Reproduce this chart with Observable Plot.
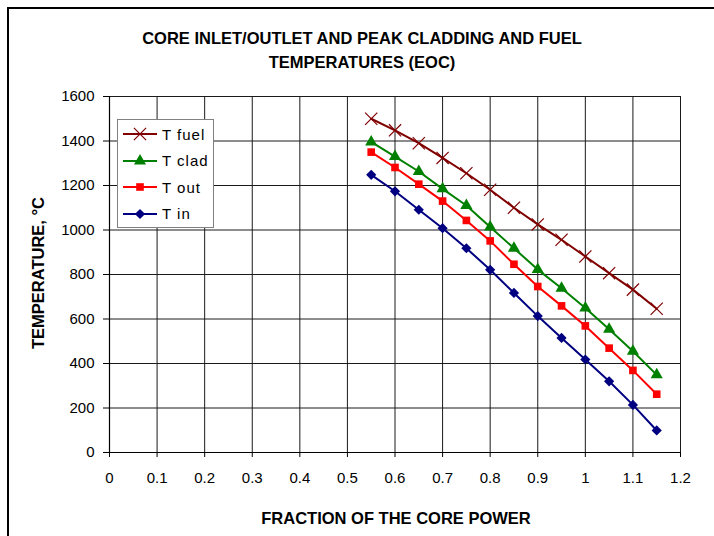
<!DOCTYPE html>
<html>
<head>
<meta charset="utf-8">
<script src="https://cdn.jsdelivr.net/npm/d3@7"></script>
<script src="https://cdn.jsdelivr.net/npm/@observablehq/plot@0.6"></script>
<style>
  body { margin: 0; background: #fff; font-family: "Liberation Sans", Arial, sans-serif; }
  #wrap { position: relative; width: 714px; height: 536px; overflow: hidden; background: #fff; }
  #frame { position: absolute; left: 7px; top: 7px; width: 800px; height: 700px;
           border-left: 2px solid #000; border-top: 2px solid #000; }
  .title { position: absolute; left: 0; width: 724px; text-align: center; font-weight: bold;
           font-size: 16.5px; white-space: nowrap; line-height: 18px; }
  #chart { position: absolute; left: 0; top: 0; }
  #xlabel { position: absolute; left: 396px; top: 518px; transform: translate(-50%, -50%);
            font-weight: bold; font-size: 16.5px; white-space: nowrap; }
  #ylabel { position: absolute; left: 38px; top: 273px; transform: translate(-50%, -50%) rotate(-90deg);
            font-weight: bold; font-size: 16.5px; white-space: nowrap; }
  #legend { position: absolute; left: 117px; top: 119px; width: 95px; height: 107px;
            border: 1.5px solid #808080; background: #fff; z-index: 3; }
  .row { position: absolute; left: 4px; height: 20px; display: flex; align-items: center; }
  .row span { font-size: 15px; letter-spacing: 1px; margin-left: 4px; }
</style>
</head>
<body>
<div id="wrap">
  <div id="frame"></div>
  <div id="chart"></div>
  <div class="title" style="top:29px">CORE INLET/OUTLET AND PEAK CLADDING AND FUEL</div>
  <div class="title" style="top:53px">TEMPERATURES (EOC)</div>
  <div id="xlabel">FRACTION OF THE CORE POWER</div>
  <div id="ylabel">TEMPERATURE, °C</div>
  <div id="legend"></div>
</div>
<script>
// ---- data ----
const fraction = [0.55, 0.6, 0.65, 0.7, 0.75, 0.8, 0.85, 0.9, 0.95, 1.0, 1.05, 1.1, 1.15];
const tFuel = [1500, 1448, 1390, 1324, 1255, 1181, 1100, 1025, 956, 881, 806, 732, 646];
const tClad = [1396, 1330, 1263, 1185, 1110, 1013, 918, 822, 738, 649, 554, 455, 349];
const tOut  = [1350, 1281, 1206, 1130, 1043, 951, 846, 746, 659, 569, 469, 369, 262];
const tIn   = [1248, 1174, 1091, 1008, 918, 821, 717, 613, 515, 418, 320, 214, 99];

const seriesNames = ["T fuel", "T clad", "T out", "T in"];
const seriesColors = ["#800000", "#008000", "#ff0000", "#000080"];
const seriesSymbols = ["times", "triangle", "square", "diamond2"];
const seriesR = [5.6, 4.5, 4.3, 4.6];

const xTicks = [0, 0.1, 0.2, 0.3, 0.4, 0.5, 0.6, 0.7, 0.8, 0.9, 1.0, 1.1, 1.2];
const xTickLabels = ["0", "0.1", "0.2", "0.3", "0.4", "0.5", "0.6", "0.7", "0.8", "0.9", "1", "1.1", "1.2"];
const yTicks = [0, 200, 400, 600, 800, 1000, 1200, 1400, 1600];
const yTickLabels = ["0", "200", "400", "600", "800", "1000", "1200", "1400", "1600"];

const allValues = [tFuel, tClad, tOut, tIn];
const rows = [];
allValues.forEach((vals, s) => fraction.forEach((x, i) => rows.push({series: seriesNames[s], x, y: vals[i]})));

const marks = [
  Plot.gridX(xTicks, {stroke: "#1a1a1a", strokeOpacity: 1, strokeWidth: 1}),
  Plot.gridY(yTicks, {stroke: "#1a1a1a", strokeOpacity: 1, strokeWidth: 1}),
  Plot.axisX(xTicks, {tickSize: 5, tickPadding: 15, tickFormat: (d, i) => xTickLabels[i], label: null, fontSize: 15}),
  Plot.axisY(yTicks, {tickSize: 6, tickPadding: 9, tickFormat: (d, i) => yTickLabels[i], label: null, fontSize: 15}),
  Plot.ruleX([0], {stroke: "#000", strokeWidth: 1.2}),
  Plot.ruleY([0], {stroke: "#000", strokeWidth: 1.2})
];
seriesNames.forEach((name, s) => {
  const sub = rows.filter(d => d.series === name);
  marks.push(Plot.line(sub, {x: "x", y: "y", stroke: seriesColors[s], strokeWidth: 2}));
  if (seriesSymbols[s] === "times") {
    marks.push(Plot.dot(sub, {x: "x", y: "y", symbol: "times", r: seriesR[s], stroke: seriesColors[s], strokeWidth: 1.2}));
  } else {
    marks.push(Plot.dot(sub, {x: "x", y: "y", symbol: seriesSymbols[s], r: seriesR[s], fill: seriesColors[s], stroke: "none"}));
  }
});

const chart = Plot.plot({
  width: 714, height: 536,
  marginLeft: 109, marginRight: 34, marginTop: 96, marginBottom: 84,
  style: {fontFamily: "'Liberation Sans', Arial, sans-serif", fontSize: "15px", background: "transparent", color: "#000"},
  x: {domain: [0, 1.2]},
  y: {domain: [0, 1600]},
  marks
});
document.getElementById("chart").appendChild(chart);

// legend
const legend = document.getElementById("legend");
const symMap = {times: d3.symbolTimes, triangle: d3.symbolTriangle, square: d3.symbolSquare, diamond2: d3.symbolDiamond2};
seriesNames.forEach((name, s) => {
  const row = document.createElement("div");
  row.className = "row";
  row.style.top = (4 + s * 26.5) + "px";
  const svg = d3.create("svg").attr("width", 36).attr("height", 20);
  svg.append("line").attr("x1", 1).attr("x2", 35).attr("y1", 10).attr("y2", 10)
    .attr("stroke", seriesColors[s]).attr("stroke-width", 2);
  const path = d3.symbol(symMap[seriesSymbols[s]], seriesR[s] * seriesR[s] * Math.PI)();
  const p = svg.append("path").attr("d", path).attr("transform", "translate(18,10)");
  if (seriesSymbols[s] === "times") p.attr("fill", "none").attr("stroke", seriesColors[s]).attr("stroke-width", 1.2);
  else p.attr("fill", seriesColors[s]);
  row.appendChild(svg.node());
  const span = document.createElement("span");
  span.textContent = name;
  row.appendChild(span);
  legend.appendChild(row);
});
</script>
</body>
</html>
